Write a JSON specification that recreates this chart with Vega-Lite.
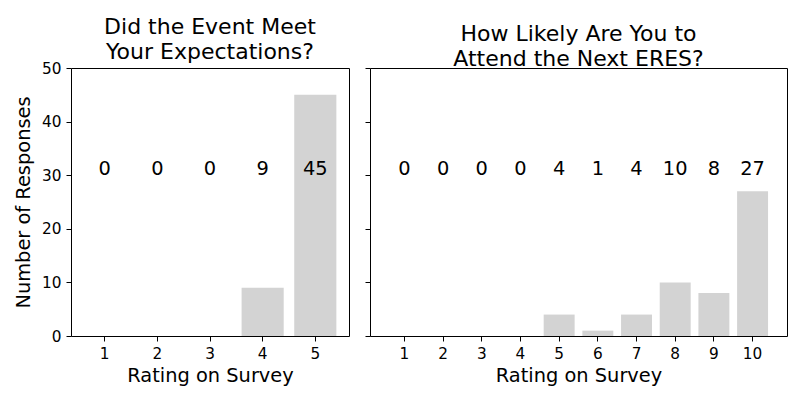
{
  "$schema": "https://vega.github.io/schema/vega-lite/v6.json",
  "background": "white",
  "padding": {"left": 13, "top": 15, "right": 10, "bottom": 5},
  "datasets": {
    "expect": [
      {"rating": 1, "count": 0},
      {"rating": 2, "count": 0},
      {"rating": 3, "count": 0},
      {"rating": 4, "count": 9},
      {"rating": 5, "count": 45}
    ],
    "likely": [
      {"rating": 1, "count": 0},
      {"rating": 2, "count": 0},
      {"rating": 3, "count": 0},
      {"rating": 4, "count": 0},
      {"rating": 5, "count": 4},
      {"rating": 6, "count": 1},
      {"rating": 7, "count": 4},
      {"rating": 8, "count": 10},
      {"rating": 9, "count": 8},
      {"rating": 10, "count": 27}
    ]
  },
  "spacing": 14,
  "hconcat": [
    {
      "width": 278,
      "height": 268,
      "data": {"name": "expect"},
      "title": {"text": ["Did the Event Meet", "Your Expectations?"]},
      "encoding": {
        "x": {
          "field": "rating",
          "type": "ordinal",
          "title": "Rating on Survey",
          "scale": {"paddingInner": 0.2, "paddingOuter": 0.24},
          "axis": {"labelAngle": 0}
        }
      },
      "layer": [
        {
          "mark": {"type": "bar", "color": "#d3d3d3"},
          "encoding": {
            "y": {
              "field": "count",
              "type": "quantitative",
              "title": "Number of Responses",
              "scale": {"domain": [0, 50]},
              "axis": {"values": [0, 10, 20, 30, 40, 50]}
            }
          }
        },
        {
          "mark": {"type": "text", "fontSize": 19.4, "baseline": "alphabetic", "color": "black"},
          "encoding": {
            "y": {"datum": 30, "type": "quantitative"},
            "text": {"field": "count", "type": "quantitative"}
          }
        }
      ]
    },
    {
      "width": 417,
      "height": 268,
      "data": {"name": "likely"},
      "title": {"text": ["How Likely Are You to", "Attend the Next ERES?"]},
      "encoding": {
        "x": {
          "field": "rating",
          "type": "ordinal",
          "title": "Rating on Survey",
          "scale": {"paddingInner": 0.2, "paddingOuter": 0.49},
          "axis": {"labelAngle": 0}
        }
      },
      "layer": [
        {
          "mark": {"type": "bar", "color": "#d3d3d3"},
          "encoding": {
            "y": {
              "field": "count",
              "type": "quantitative",
              "title": null,
              "scale": {"domain": [0, 50]},
              "axis": {"values": [0, 10, 20, 30, 40, 50], "labels": false}
            }
          }
        },
        {
          "mark": {"type": "text", "fontSize": 19.4, "baseline": "alphabetic", "color": "black"},
          "encoding": {
            "y": {"datum": 30, "type": "quantitative"},
            "text": {"field": "count", "type": "quantitative"}
          }
        }
      ]
    }
  ],
  "config": {
    "font": "DejaVu Sans",
    "view": {"stroke": "black", "strokeWidth": 1},
    "title": {"fontSize": 22, "fontWeight": "normal", "color": "black", "anchor": "middle", "offset": -3, "lineHeight": 25},
    "axis": {
      "grid": false,
      "domain": false,
      "tickColor": "black",
      "tickSize": 5,
      "labelFontSize": 15.3,
      "labelColor": "black",
      "labelPadding": 5,
      "titleFontSize": 19.4,
      "titleFontWeight": "normal",
      "titleColor": "black",
      "titlePadding": 8
    },
    "axisX": {"labelPadding": 5, "titlePadding": 5}
  }
}
